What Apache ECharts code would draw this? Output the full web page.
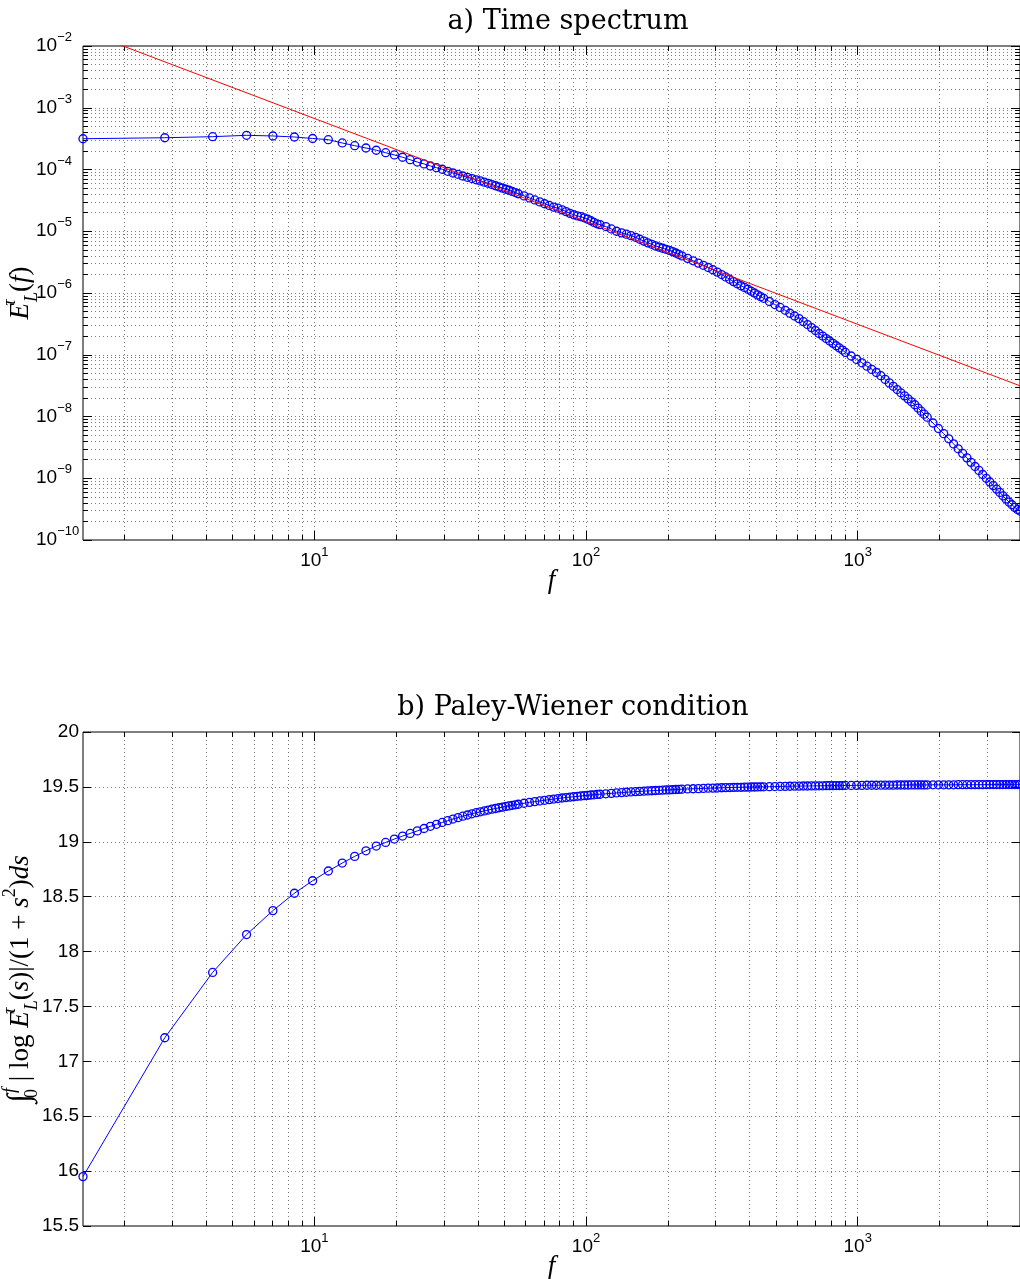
<!DOCTYPE html>
<html>
<head>
<meta charset="utf-8">
<script src="https://cdn.jsdelivr.net/npm/echarts@6/dist/echarts.min.js"></script>
<style>
  html, body { margin: 0; padding: 0; background: #ffffff; }
  #chart { width: 1020px; height: 1279px; }
</style>
</head>
<body>
<div id="chart"></div>
<script>
// Sampled frequencies f (Hz)
const freq = [
  1.408, 2.816, 4.224, 5.632, 7.04, 8.448, 9.856, 11.26, 12.67, 14.08,
  15.49, 16.9, 18.3, 19.71, 21.12, 22.53, 23.94, 25.34, 26.75, 28.16,
  29.57, 30.98, 32.38, 33.79, 35.2, 36.61, 38.02, 39.42, 40.83, 42.24,
  43.65, 45.06, 46.46, 47.87, 49.28, 50.69, 52.1, 53.5, 54.91, 56.32,
  59.14, 61.95, 64.77, 67.58, 70.4, 73.22, 76.03, 78.85, 81.66, 84.48,
  87.3, 90.11, 92.93, 95.74, 98.56, 101.4, 104.2, 107, 109.8, 112.6,
  118.3, 123.9, 129.5, 135.2, 140.8, 146.4, 152.1, 157.7, 163.3, 169,
  174.6, 180.2, 185.9, 191.5, 197.1, 202.8, 208.4, 214, 219.6, 225.3,
  236.5, 247.8, 259.1, 270.3, 281.6, 292.9, 304.1, 315.4, 326.7, 337.9,
  349.2, 360.4, 371.7, 383, 394.2, 405.5, 416.8, 428, 439.3, 450.6,
  473.1, 495.6, 518.1, 540.7, 563.2, 585.7, 608.3, 630.8, 653.3, 675.8,
  698.4, 720.9, 743.4, 766, 788.5, 811, 833.5, 856.1, 878.6, 901.1,
  946.2, 991.2, 1036, 1081, 1126, 1171, 1217, 1262, 1307, 1352,
  1397, 1442, 1487, 1532, 1577, 1622, 1667, 1712, 1757, 1802,
  1892, 1982, 2073, 2163, 2253, 2343, 2433, 2523, 2613, 2703,
  2793, 2884, 2974, 3064, 3154, 3244, 3334, 3424, 3514, 3604,
  3695, 3785, 3875, 3956.5
];

// Lagrangian time spectrum E_L^tau(f)
const spectrum = [
  3.15e-4, 3.27e-4, 3.40e-4, 3.58e-4, 3.49e-4, 3.36e-4, 3.18e-4, 3.04e-4, 2.69e-4, 2.43e-4,
  2.23e-4, 2.05e-4, 1.87e-4, 1.72e-4, 1.58e-4, 1.44e-4, 1.32e-4, 1.23e-4, 1.14e-4, 1.07e-4,
  1.01e-4, 9.35e-5, 8.78e-5, 8.36e-5, 7.85e-5, 7.48e-5, 7.13e-5, 6.81e-5, 6.52e-5, 6.23e-5,
  5.97e-5, 5.70e-5, 5.46e-5, 5.23e-5, 5.00e-5, 4.79e-5, 4.61e-5, 4.41e-5, 4.23e-5, 4.05e-5,
  3.74e-5, 3.46e-5, 3.21e-5, 2.99e-5, 2.79e-5, 2.62e-5, 2.46e-5, 2.36e-5, 2.22e-5, 2.08e-5,
  1.95e-5, 1.85e-5, 1.77e-5, 1.72e-5, 1.65e-5, 1.57e-5, 1.48e-5, 1.39e-5, 1.32e-5, 1.28e-5,
  1.19e-5, 1.09e-5, 1.00e-5, 9.42e-6, 8.96e-6, 8.49e-6, 7.97e-6, 7.42e-6, 6.92e-6, 6.49e-6,
  6.15e-6, 5.79e-6, 5.54e-6, 5.31e-6, 5.10e-6, 4.90e-6, 4.68e-6, 4.44e-6, 4.21e-6, 3.99e-6,
  3.64e-6, 3.32e-6, 3.05e-6, 2.81e-6, 2.59e-6, 2.38e-6, 2.18e-6, 1.99e-6, 1.82e-6, 1.67e-6,
  1.53e-6, 1.41e-6, 1.31e-6, 1.23e-6, 1.15e-6, 1.07e-6, 1.00e-6, 9.32e-7, 8.73e-7, 8.21e-7,
  7.29e-7, 6.50e-7, 5.84e-7, 5.24e-7, 4.70e-7, 4.24e-7, 3.85e-7, 3.44e-7, 3.08e-7, 2.75e-7,
  2.47e-7, 2.21e-7, 2.01e-7, 1.83e-7, 1.67e-7, 1.53e-7, 1.40e-7, 1.29e-7, 1.19e-7, 1.09e-7,
  9.55e-8, 8.41e-8, 7.41e-8, 6.53e-8, 5.79e-8, 5.16e-8, 4.58e-8, 3.99e-8, 3.50e-8, 3.08e-8,
  2.73e-8, 2.42e-8, 2.16e-8, 1.93e-8, 1.73e-8, 1.55e-8, 1.37e-8, 1.22e-8, 1.09e-8, 9.74e-9,
  7.85e-9, 6.39e-9, 5.27e-9, 4.35e-9, 3.60e-9, 3.00e-9, 2.53e-9, 2.14e-9, 1.81e-9, 1.55e-9,
  1.34e-9, 1.15e-9, 9.98e-10, 8.70e-10, 7.60e-10, 6.67e-10, 5.90e-10, 5.20e-10, 4.61e-10, 4.12e-10,
  3.72e-10, 3.37e-10, 3.12e-10, 2.95e-10
];

// Running Paley-Wiener integral up to f
const paleyWiener = [
  15.95, 17.215, 17.81, 18.155, 18.373, 18.531, 18.645, 18.734, 18.806, 18.867,
  18.918, 18.961, 18.994, 19.025, 19.052, 19.076, 19.099, 19.121, 19.141, 19.159,
  19.176, 19.192, 19.207, 19.220, 19.233, 19.244, 19.255, 19.265, 19.273, 19.281,
  19.289, 19.297, 19.303, 19.310, 19.316, 19.322, 19.327, 19.332, 19.337, 19.342,
  19.351, 19.359, 19.366, 19.372, 19.378, 19.384, 19.389, 19.394, 19.399, 19.403,
  19.407, 19.410, 19.414, 19.417, 19.420, 19.423, 19.426, 19.428, 19.431, 19.433,
  19.437, 19.441, 19.445, 19.448, 19.451, 19.454, 19.457, 19.459, 19.461, 19.463,
  19.465, 19.467, 19.469, 19.470, 19.472, 19.473, 19.475, 19.476, 19.477, 19.479,
  19.481, 19.483, 19.484, 19.486, 19.488, 19.489, 19.490, 19.492, 19.493, 19.494,
  19.495, 19.496, 19.496, 19.497, 19.498, 19.499, 19.499, 19.500, 19.501, 19.501,
  19.502, 19.503, 19.504, 19.505, 19.506, 19.507, 19.507, 19.508, 19.508, 19.509,
  19.509, 19.510, 19.510, 19.511, 19.511, 19.511, 19.512, 19.512, 19.512, 19.513,
  19.513, 19.514, 19.514, 19.515, 19.515, 19.515, 19.516, 19.516, 19.516, 19.516,
  19.517, 19.517, 19.517, 19.517, 19.518, 19.518, 19.518, 19.518, 19.518, 19.518,
  19.519, 19.519, 19.519, 19.519, 19.519, 19.520, 19.520, 19.520, 19.520, 19.520,
  19.520, 19.520, 19.521, 19.521, 19.521, 19.521, 19.521, 19.521, 19.521, 19.521,
  19.521, 19.521, 19.521, 19.522
];

// -5/3 power-law reference line (end points)
const refFreq = [1.408, 3956.5];
const refSpectrum = [1.76e-2, 3.14e-8];

// Axis ranges and tick positions
const fRange = [1.408, 3956.5];
const spectrumRange = [1e-10, 1e-2];
const pwRange = [15.5, 20];
const fMajorTicks = [10, 100, 1000];
const fMinorTicks = [2, 3, 4, 5, 6, 7, 8, 9, 20, 30, 40, 50, 60, 70, 80, 90,
  200, 300, 400, 500, 600, 700, 800, 900, 2000, 3000];
const eMajorTicks = [1e-10, 1e-9, 1e-8, 1e-7, 1e-6, 1e-5, 1e-4, 1e-3, 1e-2];
const eMinorTicks = [
  2e-10, 3e-10, 4e-10, 5e-10, 6e-10, 7e-10, 8e-10, 9e-10,
  2e-9, 3e-9, 4e-9, 5e-9, 6e-9, 7e-9, 8e-9, 9e-9,
  2e-8, 3e-8, 4e-8, 5e-8, 6e-8, 7e-8, 8e-8, 9e-8,
  2e-7, 3e-7, 4e-7, 5e-7, 6e-7, 7e-7, 8e-7, 9e-7,
  2e-6, 3e-6, 4e-6, 5e-6, 6e-6, 7e-6, 8e-6, 9e-6,
  2e-5, 3e-5, 4e-5, 5e-5, 6e-5, 7e-5, 8e-5, 9e-5,
  2e-4, 3e-4, 4e-4, 5e-4, 6e-4, 7e-4, 8e-4, 9e-4,
  2e-3, 3e-3, 4e-3, 5e-3, 6e-3, 7e-3, 8e-3, 9e-3
];

const SANS = 'Liberation Sans, Arial, Helvetica, sans-serif';
const SERIF = 'Liberation Serif, Times New Roman, serif';
const TITLE_FONT = 'DejaVu Serif, serif';

const gridLine = { show: true, lineStyle: { color: '#7a7a7a', width: 1, type: [1, 3] } };
const tickLine = { color: '#000000', width: 1 };

// Power-of-ten labels: 10 with a raised exponent
function powLabel(v) {
  const e = Math.round(Math.log10(v));
  return '{b|10}{s|' + (e < 0 ? '\u2212' + (-e) : String(e)) + '}';
}
const powRich = {
  b: { fontFamily: SANS, fontSize: 19, lineHeight: 30, color: '#000' },
  s: { fontFamily: SANS, fontSize: 13, lineHeight: 13, verticalAlign: 'top', color: '#000' }
};

// Math-style rich text for axis names
const mathRich = {
  it: { fontFamily: SERIF, fontStyle: 'italic', fontSize: 27, lineHeight: 40, color: '#000' },
  rm: { fontFamily: SERIF, fontSize: 27, lineHeight: 40, color: '#000' },
  big: { fontFamily: SERIF, fontSize: 32, lineHeight: 40, color: '#000' },
  supz: { fontFamily: SERIF, fontStyle: 'italic', fontSize: 18, lineHeight: 19, verticalAlign: 'top', width: 1, align: 'left', color: '#000' },
  sup: { fontFamily: SERIF, fontStyle: 'italic', fontSize: 18, lineHeight: 19, verticalAlign: 'top', color: '#000' },
  suprm: { fontFamily: SERIF, fontSize: 18, lineHeight: 19, verticalAlign: 'top', color: '#000' },
  sub: { fontFamily: SERIF, fontStyle: 'italic', fontSize: 18, lineHeight: 19, verticalAlign: 'bottom', color: '#000' },
  subz: { fontFamily: SERIF, fontSize: 18, lineHeight: 19, verticalAlign: 'bottom', width: 1, align: 'left', color: '#000' }
};

const spectrumName = '{it|E}{supz|\u03c4}{sub|L}{rm|(}{it|f}{rm|)}';
const pwName = '{big|\u222b}{subz|0}{sup|f}{rm| | log }{it|E}{supz|\u03c4}{sub|L}{rm|(}{it|s}{rm|)|/(1 + }{it|s}{suprm|2}{rm|)}{it|ds}';

function fAxis(grid, pos, ticks, len, opts) {
  opts = opts || {};
  const ax = {
    type: 'log', logBase: 10, gridIndex: grid, position: pos,
    min: fRange[0], max: fRange[1],
    axisLine: { show: false, onZero: false },
    axisTick: { show: true, inside: true, length: len, lineStyle: tickLine, customValues: ticks },
    axisLabel: { show: false },
    splitLine: opts.grid ? gridLine : { show: false },
    minorTick: { show: false }, minorSplitLine: { show: false },
    silent: true
  };
  if (opts.labels) {
    ax.axisLabel = { show: true, customValues: ticks, margin: 6, formatter: powLabel, rich: powRich };
    ax.name = '{it|f}';
    ax.nameLocation = 'middle';
    ax.nameGap = 21;
    ax.nameMoveOverlap = false;
    ax.nameTextStyle = { rich: mathRich };
  }
  return ax;
}

function eAxis(pos, ticks, len, opts) {
  opts = opts || {};
  const ax = {
    type: 'log', logBase: 10, gridIndex: 0, position: pos,
    min: spectrumRange[0], max: spectrumRange[1],
    axisLine: { show: false, onZero: false },
    axisTick: { show: true, inside: true, length: len, lineStyle: tickLine, customValues: ticks },
    axisLabel: { show: false },
    splitLine: opts.grid ? gridLine : { show: false },
    minorTick: { show: false }, minorSplitLine: { show: false },
    silent: true
  };
  if (opts.labels) {
    ax.axisLabel = { show: true, customValues: ticks, margin: 47, align: 'left', formatter: powLabel, rich: powRich };
    ax.name = spectrumName;
    ax.nameLocation = 'middle';
    ax.nameRotate = 90;
    ax.nameGap = 42;
    ax.nameMoveOverlap = false;
    ax.nameTextStyle = { rich: mathRich };
  }
  return ax;
}

function pwAxis(pos, opts) {
  opts = opts || {};
  const ax = {
    type: 'value', gridIndex: 1, position: pos,
    min: pwRange[0], max: pwRange[1], interval: 0.5,
    axisLine: { show: false, onZero: false },
    axisTick: { show: true, inside: true, length: 8, lineStyle: tickLine },
    axisLabel: { show: false },
    splitLine: opts.grid ? gridLine : { show: false },
    silent: true
  };
  if (opts.labels) {
    ax.axisLabel = { show: true, margin: 4, fontFamily: SANS, fontSize: 19, color: '#000' };
    ax.name = pwName;
    ax.nameLocation = 'middle';
    ax.nameRotate = 90;
    ax.nameGap = 42;
    ax.nameMoveOverlap = false;
    ax.nameTextStyle = { rich: mathRich };
  }
  return ax;
}

const markerSeries = (xi, yi, data) => ({
  type: 'line', xAxisIndex: xi, yAxisIndex: yi, data: data,
  symbol: 'circle', symbolSize: 8, showSymbol: true,
  itemStyle: { color: 'rgba(0,0,255,0)', borderColor: '#0000ff', borderWidth: 1.3 },
  lineStyle: { color: '#0000ff', width: 1 },
  emphasis: { disabled: true }, silent: true, animation: false, z: 3, clip: true
});

const option = {
  backgroundColor: '#ffffff',
  animation: false,
  title: [
    { text: 'a) Time spectrum', left: 563, top: 3, textAlign: 'center',
      textStyle: { fontFamily: TITLE_FONT, fontSize: 27, fontWeight: 'normal', color: '#000' } },
    { text: 'b) Paley-Wiener condition', left: 568, top: 689, textAlign: 'center',
      textStyle: { fontFamily: TITLE_FONT, fontSize: 27, fontWeight: 'normal', color: '#000' } }
  ],
  grid: [
    { left: 83, top: 46, width: 937, height: 494, show: true, borderColor: '#000', borderWidth: 1,
      backgroundColor: '#fff', outerBoundsMode: 'none', containLabel: false },
    { left: 83, top: 732, width: 937, height: 494, show: true, borderColor: '#000', borderWidth: 1,
      backgroundColor: '#fff', outerBoundsMode: 'none', containLabel: false }
  ],
  xAxis: [
    fAxis(0, 'bottom', fMajorTicks, 9, { labels: true, grid: true }),
    fAxis(0, 'bottom', fMinorTicks, 5, { grid: true }),
    fAxis(0, 'top', fMajorTicks, 9),
    fAxis(0, 'top', fMinorTicks, 5),
    fAxis(1, 'bottom', fMajorTicks, 9, { labels: true, grid: true }),
    fAxis(1, 'bottom', fMinorTicks, 5, { grid: true }),
    fAxis(1, 'top', fMajorTicks, 9),
    fAxis(1, 'top', fMinorTicks, 5)
  ],
  yAxis: [
    eAxis('left', eMajorTicks, 9, { labels: true, grid: true }),
    eAxis('left', eMinorTicks, 5, { grid: true }),
    eAxis('right', eMajorTicks, 9),
    eAxis('right', eMinorTicks, 5),
    pwAxis('left', { labels: true, grid: true }),
    pwAxis('right')
  ],
  series: [
    markerSeries(0, 0, freq.map((f, i) => [f, spectrum[i]])),
    {
      type: 'line', xAxisIndex: 0, yAxisIndex: 0,
      data: refFreq.map((f, i) => [f, refSpectrum[i]]),
      symbol: 'none', lineStyle: { color: '#ff0000', width: 1 },
      emphasis: { disabled: true }, silent: true, animation: false, z: 4, clip: true
    },
    markerSeries(4, 4, freq.map((f, i) => [f, paleyWiener[i]]))
  ]
};

const chart = echarts.init(document.getElementById('chart'), null, { renderer: 'canvas' });
chart.setOption(option);
</script>
</body>
</html>
